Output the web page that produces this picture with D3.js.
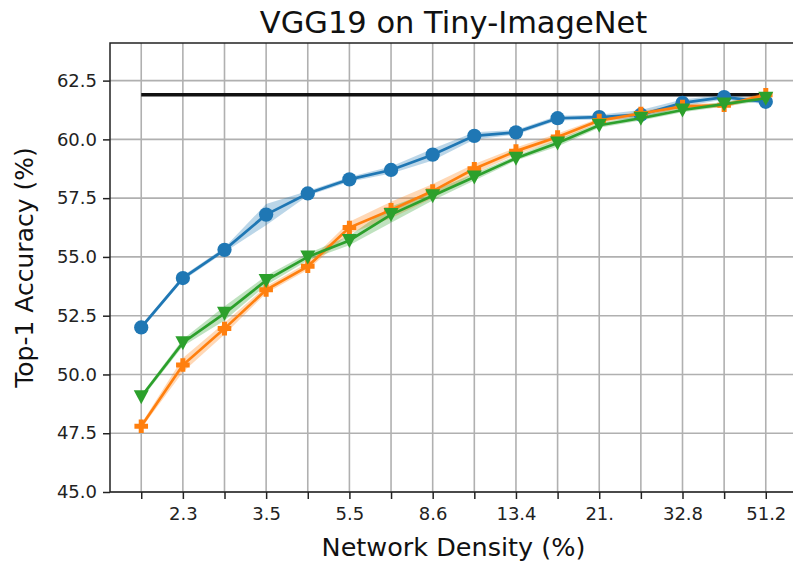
<!DOCTYPE html>
<html>
<head>
<meta charset="utf-8">
<script src="https://cdn.jsdelivr.net/npm/d3@7"></script>
<style>
    body { margin: 0; background: #fff; }
    svg { display: block; font-family: 'DejaVu Sans', sans-serif; }
</style>
</head>
<body>
<svg width="793" height="561"></svg>
<script>
// x positions are indices, only every other one gets a label
var densityLabels = ['', '2.3', '', '3.5', '', '5.5', '', '8.6', '', '13.4', '', '21.', '', '32.8', '', '51.2'];
var yTicks = [45.0, 47.5, 50.0, 52.5, 55.0, 57.5, 60.0, 62.5];
var denseBaseline = 61.9;

var blueMean = [52.0, 54.1, 55.3, 56.8, 57.7, 58.3, 58.7, 59.35, 60.15, 60.3, 60.9, 60.95, 61.05, 61.55, 61.8, 61.6];
var blueStd = [0.1, 0.1, 0.1, 0.45, 0.1, 0.1, 0.15, 0.25, 0.15, 0.1, 0.1, 0.1, 0.2, 0.15, 0.1, 0.1];

var orangeMean = [47.8, 50.4, 51.95, 53.6, 54.6, 56.25, 57.0, 57.8, 58.75, 59.5, 60.1, 60.8, 61.1, 61.4, 61.45, 61.9];
var orangeStd = [0.1, 0.3, 0.25, 0.15, 0.15, 0.25, 0.35, 0.3, 0.2, 0.15, 0.15, 0.1, 0.1, 0.1, 0.1, 0.1];

var greenMean = [49.05, 51.35, 52.6, 54.0, 55.0, 55.7, 56.8, 57.6, 58.4, 59.2, 59.85, 60.6, 60.9, 61.25, 61.5, 61.75];
var greenStd = [0.1, 0.15, 0.3, 0.2, 0.15, 0.2, 0.35, 0.2, 0.15, 0.1, 0.15, 0.1, 0.1, 0.1, 0.1, 0.1];

var svg = d3.select('svg');
var padding = {t: 43, r: -4, b: 69, l: 110};
var svgWidth = +svg.attr('width');
var svgHeight = +svg.attr('height');
var chartWidth = svgWidth - padding.l - padding.r;
var chartHeight = svgHeight - padding.t - padding.b;

var chartG = svg.append('g')
    .attr('transform', 'translate(' + [padding.l, padding.t] + ')');

var xScale = d3.scaleLinear()
    .domain([-0.75, densityLabels.length - 1 + 0.75])
    .range([0, chartWidth]);

var yScale = d3.scaleLinear()
    .domain([45, 64.1])
    .range([chartHeight, 0]);

// grid
chartG.append('g').selectAll('line.vgrid')
    .data(d3.range(densityLabels.length))
    .enter().append('line')
    .attr('x1', d => xScale(d)).attr('x2', d => xScale(d))
    .attr('y1', 0).attr('y2', chartHeight)
    .attr('stroke', '#b0b0b0').attr('stroke-width', 1.6);

chartG.append('g').selectAll('line.hgrid')
    .data(yTicks)
    .enter().append('line')
    .attr('x1', 0).attr('x2', chartWidth)
    .attr('y1', d => yScale(d)).attr('y2', d => yScale(d))
    .attr('stroke', '#b0b0b0').attr('stroke-width', 1.6);

// axes
var xAxis = d3.axisBottom(xScale)
    .tickValues(d3.range(densityLabels.length))
    .tickFormat(i => densityLabels[i])
    .tickSizeOuter(0)
    .tickSize(7)
    .tickPadding(8);

var yAxis = d3.axisLeft(yScale)
    .tickValues(yTicks)
    .tickFormat(d3.format('.1f'))
    .tickSizeOuter(0)
    .tickSize(7)
    .tickPadding(6);

var xG = chartG.append('g')
    .attr('transform', 'translate(0,' + chartHeight + ')')
    .call(xAxis);
var yG = chartG.append('g').call(yAxis);

[xG, yG].forEach(function(g) {
    g.select('.domain').remove();
    g.selectAll('line').attr('stroke', '#222').attr('stroke-width', 1.5);
    g.selectAll('text')
        .attr('fill', '#222')
        .style('font-size', '18px')
        .style('font-family', 'DejaVu Sans, sans-serif');
});

// black dense baseline
chartG.append('line')
    .attr('x1', xScale(0)).attr('x2', xScale(densityLabels.length - 1))
    .attr('y1', yScale(denseBaseline)).attr('y2', yScale(denseBaseline))
    .attr('stroke', '#111').attr('stroke-width', 3.5);

var series = [
    {mean: blueMean, std: blueStd, color: '#1f77b4', marker: 'circle'},
    {mean: orangeMean, std: orangeStd, color: '#ff7f0e', marker: 'plus'},
    {mean: greenMean, std: greenStd, color: '#2ca02c', marker: 'tri'}
];

var area = d3.area()
    .x((d, i) => xScale(i))
    .y0(d => yScale(d[0]))
    .y1(d => yScale(d[1]));

var line = d3.line()
    .x((d, i) => xScale(i))
    .y(d => yScale(d));

function markerPath(type) {
    if (type === 'plus') {
        var a = 6.8, b = 2.5;
        return 'M' + -b + ',' + -a + 'H' + b + 'V' + -b + 'H' + a + 'V' + b + 'H' + b + 'V' + a +
            'H' + -b + 'V' + b + 'H' + -a + 'V' + -b + 'H' + -b + 'Z';
    }
    if (type === 'tri') {
        return 'M-7.5,-6.5L7.5,-6.5L0,7.5Z';
    }
    return d3.symbol(d3.symbolCircle, 160)();
}

series.forEach(function(s) {
    var band = s.mean.map((m, i) => [m - s.std[i], m + s.std[i]]);
    chartG.append('path')
        .datum(band)
        .attr('d', area)
        .attr('fill', s.color)
        .attr('fill-opacity', 0.3);
});

series.forEach(function(s) {
    chartG.append('path')
        .datum(s.mean)
        .attr('d', line)
        .attr('fill', 'none')
        .attr('stroke', s.color)
        .attr('stroke-width', 2.7);

    chartG.append('g').selectAll('path')
        .data(s.mean)
        .enter().append('path')
        .attr('transform', (d, i) => 'translate(' + xScale(i) + ',' + yScale(d) + ')')
        .attr('d', markerPath(s.marker))
        .attr('fill', s.color);
});

// spines
chartG.append('rect')
    .attr('x', 0).attr('y', 0)
    .attr('width', chartWidth).attr('height', chartHeight)
    .attr('fill', 'none')
    .attr('stroke', '#222').attr('stroke-width', 1.5);

// titles
svg.append('text')
    .attr('x', padding.l + chartWidth / 2)
    .attr('y', 33)
    .attr('text-anchor', 'middle')
    .style('font-size', '30.5px')
    .attr('fill', '#111')
    .text('VGG19 on Tiny-ImageNet');

svg.append('text')
    .attr('x', padding.l + chartWidth / 2)
    .attr('y', 556)
    .attr('text-anchor', 'middle')
    .style('font-size', '25.5px')
    .attr('fill', '#111')
    .text('Network Density (%)');

svg.append('text')
    .attr('transform', 'translate(33,' + (padding.t + chartHeight / 2) + ') rotate(-90)')
    .attr('text-anchor', 'middle')
    .style('font-size', '25px')
    .attr('fill', '#111')
    .text('Top-1 Accuracy (%)');
</script>
</body>
</html>
